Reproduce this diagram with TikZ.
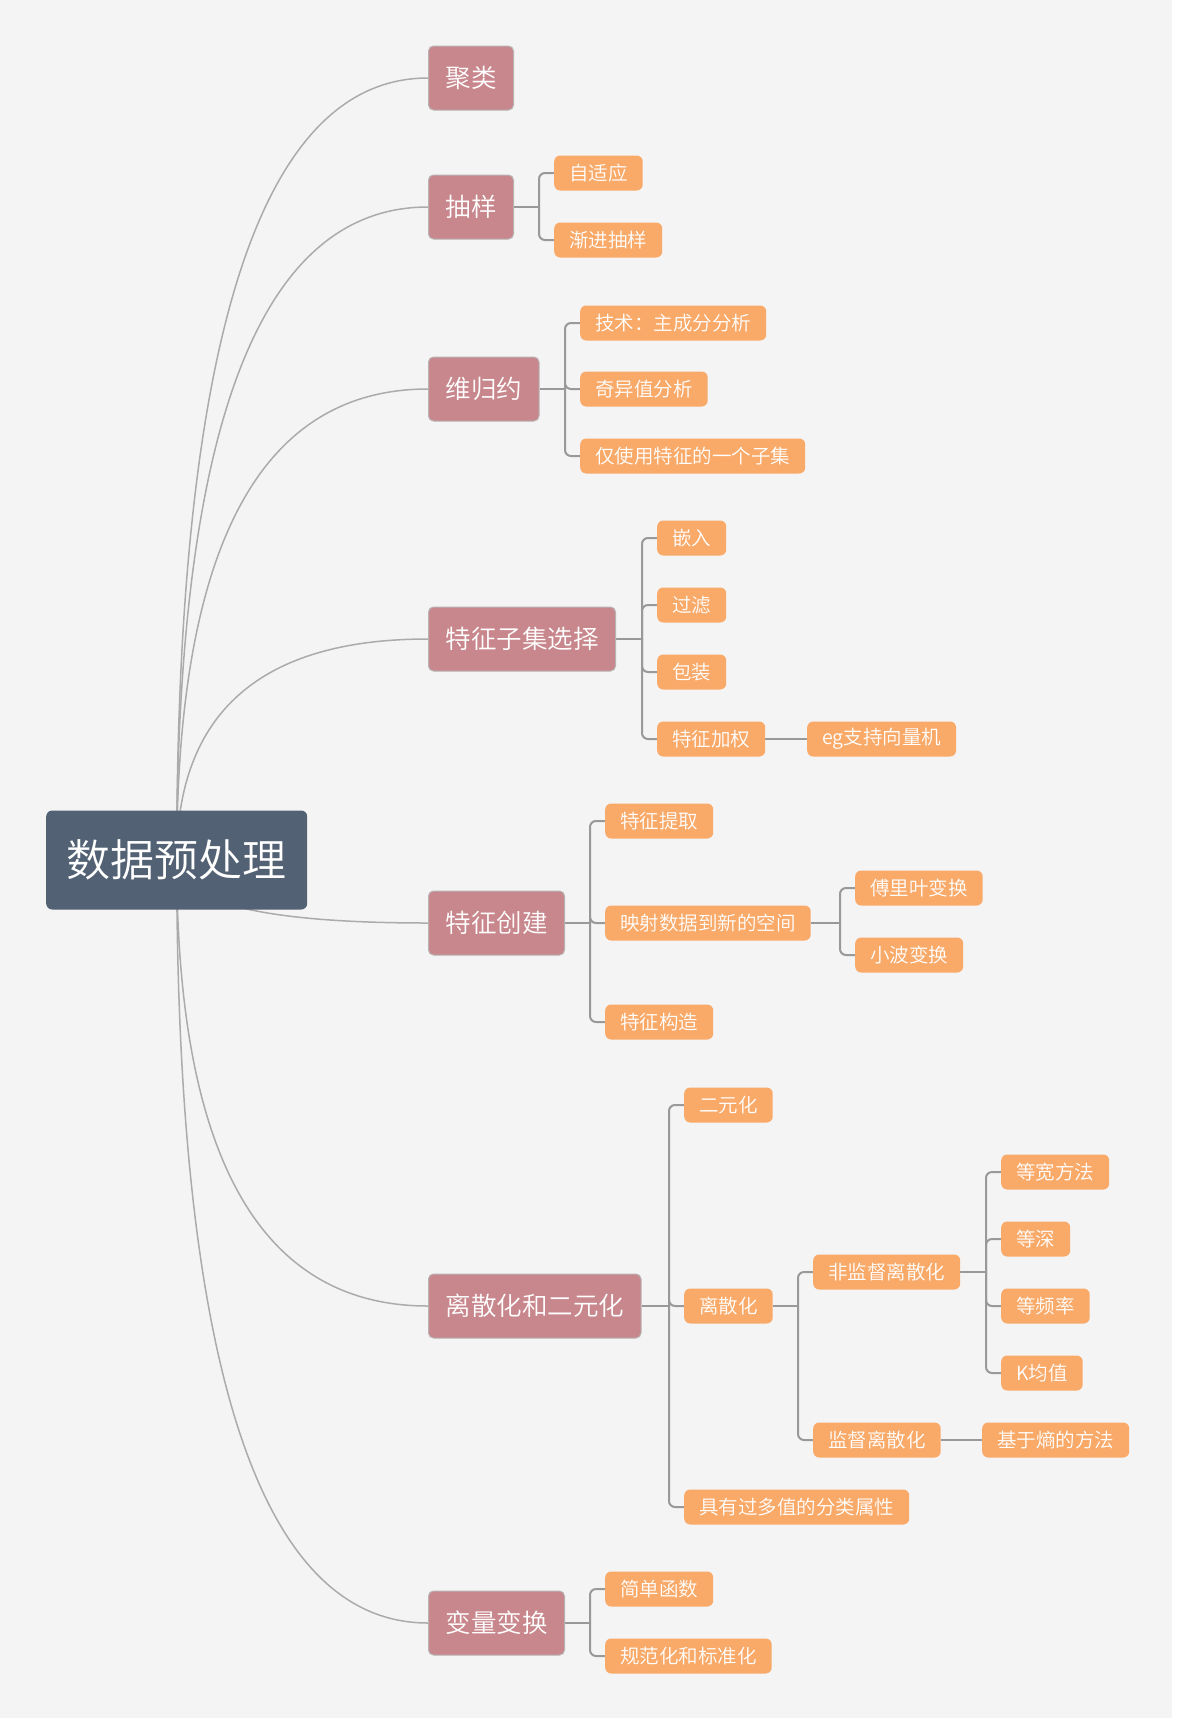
\documentclass[tikz,border=0pt]{standalone}
\usepackage{fontspec}
\IfFontExistsTF{Noto Sans CJK SC DemiLight}{\setmainfont{Noto Sans CJK SC DemiLight}}{%
  \IfFontExistsTF{Noto Sans CJK SC Light}{\setmainfont{Noto Sans CJK SC Light}}{\setmainfont{Noto Sans CJK SC}}}
\usetikzlibrary{calc}
\pgfdeclarelayer{bgl}
\pgfdeclarelayer{edgel}
\pgfsetlayers{bgl,edgel,main}
\definecolor{bgc}{HTML}{F4F4F4}
\definecolor{rootc}{HTML}{526173}
\definecolor{pinkc}{HTML}{C8878C}
\definecolor{pinkb}{HTML}{B9B2B3}
\definecolor{orangec}{HTML}{F9A968}
\definecolor{curvec}{HTML}{ABABAB}
\definecolor{elbowc}{HTML}{999999}
\newcommand{\mmcurve}[2]{%
  \coordinate (tmpc) at (#1.center |- #2.west);
  \draw[curve] (#1.center) .. controls ($(#1.center)!0.6667!(tmpc)$) and ($(#2.west)!0.6667!(tmpc)$) .. (#2.west);
}
\newcommand{\mmtrunk}[2]{% parent, first child
  \coordinate (#1t) at ($(#2.west |- #1.east)+(-15,0)$);
  \draw[elbow] (#1.east) -- (#1t);
}
\newcommand{\mmbranch}[2]{% parent, child
  \draw[elbow] (#1t) |- (#2.west);
}
\begin{document}
\begin{tikzpicture}[x=1pt,y=-1pt,
  rootbox/.style={fill=rootc, rounded corners=6, text=white, font=\fontsize{44}{50}\selectfont, minimum width=261, minimum height=99, inner sep=0, anchor=west},
  lvla/.style={fill=pinkc, draw=pinkb, line width=1, rounded corners=5, text=white, font=\fontsize{25.5}{30}\selectfont, minimum height=64, inner xsep=17, inner ysep=0, anchor=west},
  lvlb/.style={fill=orangec, rounded corners=6, text=white, font=\fontsize{19.5}{24}\selectfont, minimum height=35, inner xsep=15, inner ysep=0, anchor=west},
  curve/.style={draw=curvec, line width=1.5},
  elbow/.style={draw=elbowc, line width=2, rounded corners=6}]
\useasboundingbox (0,0) rectangle (1179,1730);
\begin{pgfonlayer}{bgl}
\fill[white] (0,0) rectangle (1179,1730);
\fill[bgc] (0,0) rectangle (1172,1718);
\end{pgfonlayer}
% root
\node[rootbox] (R) at (46,860) {数据预处理};
% level 1
\node[lvla] (a1) at (428,78) {聚类};
\node[lvla] (a2) at (428,207) {抽样};
\node[lvla] (a3) at (428,389) {维归约};
\node[lvla] (a4) at (428,639) {特征子集选择};
\node[lvla] (a5) at (428,923) {特征创建};
\node[lvla] (a6) at (428,1306) {离散化和二元化};
\node[lvla] (a7) at (428,1623) {变量变换};
% level 2
\node[lvlb] (b21) at (554,173) {自适应};
\node[lvlb] (b22) at (554,240) {渐进抽样};
\node[lvlb] (b31) at (580,323) {技术：主成分分析};
\node[lvlb] (b32) at (580,389) {奇异值分析};
\node[lvlb] (b33) at (580,456) {仅使用特征的一个子集};
\node[lvlb] (b41) at (657,538) {嵌入};
\node[lvlb] (b42) at (657,605) {过滤};
\node[lvlb] (b43) at (657,672) {包装};
\node[lvlb] (b44) at (657,739) {特征加权};
\node[lvlb] (c44) at (807,739) {eg支持向量机};
\node[lvlb] (b51) at (605,821) {特征提取};
\node[lvlb] (b52) at (605,923) {映射数据到新的空间};
\node[lvlb] (b53) at (605,1022) {特征构造};
\node[lvlb] (c521) at (855,888) {傅里叶变换};
\node[lvlb] (c522) at (855,955) {小波变换};
\node[lvlb] (b61) at (684,1105) {二元化};
\node[lvlb] (b62) at (684,1306) {离散化};
\node[lvlb] (b63) at (684,1507) {具有过多值的分类属性};
\node[lvlb] (c621) at (813,1272) {非监督离散化};
\node[lvlb] (c622) at (813,1440) {监督离散化};
\node[lvlb] (d1) at (1001,1172) {等宽方法};
\node[lvlb] (d2) at (1001,1239) {等深};
\node[lvlb] (d3) at (1001,1306) {等频率};
\node[lvlb] (d4) at (1001,1373) {K均值};
\node[lvlb] (d5) at (982,1440) {基于熵的方法};
\node[lvlb] (b71) at (605,1589) {简单函数};
\node[lvlb] (b72) at (605,1656) {规范化和标准化};
% connectors
\begin{pgfonlayer}{edgel}
\foreach \t in {a1,a2,a3,a4,a5,a6,a7} {\mmcurve{R}{\t}}
\mmtrunk{a2}{b21} \mmbranch{a2}{b21} \mmbranch{a2}{b22}
\mmtrunk{a3}{b31} \mmbranch{a3}{b31} \mmbranch{a3}{b32} \mmbranch{a3}{b33}
\mmtrunk{a4}{b41} \mmbranch{a4}{b41} \mmbranch{a4}{b42} \mmbranch{a4}{b43} \mmbranch{a4}{b44}
\draw[elbow] (b44.east) -- (c44.west);
\mmtrunk{a5}{b51} \mmbranch{a5}{b51} \mmbranch{a5}{b52} \mmbranch{a5}{b53}
\mmtrunk{b52}{c521} \mmbranch{b52}{c521} \mmbranch{b52}{c522}
\mmtrunk{a6}{b61} \mmbranch{a6}{b61} \mmbranch{a6}{b62} \mmbranch{a6}{b63}
\mmtrunk{b62}{c621} \mmbranch{b62}{c621} \mmbranch{b62}{c622}
\mmtrunk{c621}{d1} \mmbranch{c621}{d1} \mmbranch{c621}{d2} \mmbranch{c621}{d3} \mmbranch{c621}{d4}
\draw[elbow] (c622.east) -- (d5.west);
\mmtrunk{a7}{b71} \mmbranch{a7}{b71} \mmbranch{a7}{b72}
\end{pgfonlayer}
\end{tikzpicture}
\end{document}
